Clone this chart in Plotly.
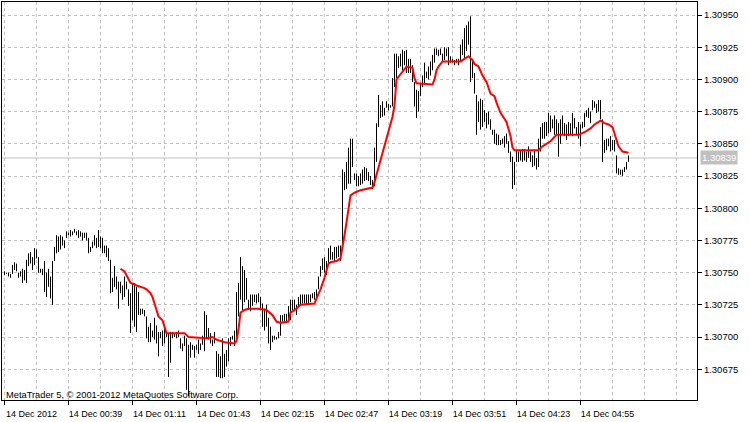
import plotly.graph_objects as go

# One-minute bars, index = minutes after 14 Dec 2012 00:07
bar_index = list(range(313))

bar_high = [
    1.30751, 1.30750, 1.30750, 1.30749, 1.30756, 1.30758, 1.30757, 1.30750, 1.30751, 1.30753,
    1.30752, 1.30760, 1.30765, 1.30766, 1.30762, 1.30769, 1.30768, 1.30762, 1.30753, 1.30753,
    1.30759, 1.30750, 1.30753, 1.30747, 1.30759, 1.30770, 1.30779, 1.30778, 1.30779, 1.30778,
    1.30775, 1.30782, 1.30781, 1.30783, 1.30782, 1.30784, 1.30782, 1.30783, 1.30782, 1.30781,
    1.30781, 1.30781, 1.30777, 1.30770, 1.30774, 1.30779, 1.30777, 1.30783, 1.30778, 1.30777,
    1.30771, 1.30771, 1.30769, 1.30760, 1.30746, 1.30755, 1.30747, 1.30743, 1.30743, 1.30740,
    1.30747, 1.30743, 1.30737, 1.30734, 1.30742, 1.30742, 1.30739, 1.30735, 1.30722, 1.30722,
    1.30721, 1.30716, 1.30708, 1.30711, 1.30705, 1.30715, 1.30709, 1.30704, 1.30704, 1.30705,
    1.30707, 1.30703, 1.30703, 1.30704, 1.30704, 1.30703, 1.30704, 1.30705, 1.30699, 1.30695,
    1.30701, 1.30699, 1.30694, 1.30696, 1.30694, 1.30693, 1.30694, 1.30698, 1.30695, 1.30701,
    1.30720, 1.30717, 1.30707, 1.30703, 1.30698, 1.30704, 1.30689, 1.30687, 1.30685, 1.30699,
    1.30687, 1.30690, 1.30699, 1.30700, 1.30701, 1.30705, 1.30735, 1.30742, 1.30762, 1.30755,
    1.30752, 1.30746, 1.30729, 1.30733, 1.30733, 1.30733, 1.30733, 1.30734, 1.30731, 1.30726,
    1.30722, 1.30725, 1.30715, 1.30708, 1.30701, 1.30701, 1.30700, 1.30704, 1.30717, 1.30717,
    1.30718, 1.30718, 1.30724, 1.30729, 1.30729, 1.30729, 1.30725, 1.30731, 1.30733, 1.30733,
    1.30733, 1.30733, 1.30733, 1.30733, 1.30734, 1.30735, 1.30737, 1.30747, 1.30755, 1.30761,
    1.30762, 1.30759, 1.30769, 1.30771, 1.30766, 1.30770, 1.30770, 1.30771, 1.30771, 1.30830,
    1.30828, 1.30836, 1.30847, 1.30854, 1.30854, 1.30827, 1.30827, 1.30825, 1.30827, 1.30830,
    1.30832, 1.30831, 1.30828, 1.30825, 1.30822, 1.30847, 1.30866, 1.30888, 1.30880, 1.30883,
    1.30878, 1.30883, 1.30881, 1.30880, 1.30901, 1.30920, 1.30920, 1.30918, 1.30920, 1.30923,
    1.30922, 1.30923, 1.30916, 1.30916, 1.30911, 1.30898, 1.30892, 1.30891, 1.30897, 1.30903,
    1.30913, 1.30906, 1.30910, 1.30914, 1.30919, 1.30924, 1.30924, 1.30923, 1.30924, 1.30920,
    1.30925, 1.30924, 1.30925, 1.30918, 1.30916, 1.30915, 1.30916, 1.30916, 1.30927, 1.30931,
    1.30940, 1.30942, 1.30945, 1.30949, 1.30916, 1.30905, 1.30888, 1.30883, 1.30885, 1.30884,
    1.30876, 1.30874, 1.30875, 1.30869, 1.30861, 1.30861, 1.30858, 1.30857, 1.30853, 1.30854,
    1.30856, 1.30858, 1.30852, 1.30844, 1.30840, 1.30836, 1.30845, 1.30844, 1.30845, 1.30846,
    1.30846, 1.30844, 1.30848, 1.30844, 1.30841, 1.30845, 1.30839, 1.30854, 1.30863, 1.30866,
    1.30867, 1.30867, 1.30874, 1.30872, 1.30869, 1.30872, 1.30869, 1.30866, 1.30869, 1.30872,
    1.30866, 1.30865, 1.30867, 1.30866, 1.30874, 1.30870, 1.30863, 1.30867, 1.30865, 1.30867,
    1.30874, 1.30876, 1.30878, 1.30875, 1.30884, 1.30883, 1.30881, 1.30884, 1.30884, 1.30869,
    1.30853, 1.30854, 1.30854, 1.30856, 1.30853, 1.30853, 1.30841, 1.30831, 1.30830, 1.30830,
    1.30832, 1.30836, 1.30841,
]

bar_low = [
    1.30748, 1.30749, 1.30747, 1.30746, 1.30749, 1.30752, 1.30751, 1.30746, 1.30747, 1.30742,
    1.30744, 1.30742, 1.30755, 1.30757, 1.30752, 1.30756, 1.30761, 1.30750, 1.30750, 1.30748,
    1.30735, 1.30731, 1.30739, 1.30730, 1.30725, 1.30759, 1.30765, 1.30766, 1.30768, 1.30771,
    1.30769, 1.30777, 1.30779, 1.30778, 1.30779, 1.30781, 1.30779, 1.30777, 1.30778, 1.30775,
    1.30777, 1.30775, 1.30765, 1.30766, 1.30769, 1.30771, 1.30769, 1.30770, 1.30769, 1.30765,
    1.30765, 1.30762, 1.30759, 1.30734, 1.30735, 1.30739, 1.30737, 1.30722, 1.30734, 1.30729,
    1.30731, 1.30737, 1.30724, 1.30703, 1.30713, 1.30708, 1.30704, 1.30717, 1.30717, 1.30718,
    1.30716, 1.30699, 1.30696, 1.30696, 1.30700, 1.30698, 1.30695, 1.30685, 1.30699, 1.30693,
    1.30695, 1.30700, 1.30669, 1.30680, 1.30699, 1.30700, 1.30699, 1.30700, 1.30691, 1.30689,
    1.30693, 1.30659, 1.30654, 1.30684, 1.30690, 1.30684, 1.30690, 1.30687, 1.30690, 1.30694,
    1.30689, 1.30699, 1.30698, 1.30695, 1.30693, 1.30695, 1.30669, 1.30669, 1.30668, 1.30668,
    1.30669, 1.30677, 1.30681, 1.30693, 1.30698, 1.30693, 1.30698, 1.30716, 1.30729, 1.30721,
    1.30727, 1.30729, 1.30721, 1.30720, 1.30724, 1.30727, 1.30726, 1.30727, 1.30722, 1.30708,
    1.30705, 1.30708, 1.30695, 1.30690, 1.30696, 1.30698, 1.30698, 1.30699, 1.30701, 1.30712,
    1.30712, 1.30712, 1.30713, 1.30713, 1.30721, 1.30720, 1.30717, 1.30724, 1.30725, 1.30726,
    1.30726, 1.30725, 1.30726, 1.30727, 1.30730, 1.30729, 1.30731, 1.30737, 1.30747, 1.30752,
    1.30750, 1.30748, 1.30757, 1.30760, 1.30760, 1.30759, 1.30761, 1.30762, 1.30759, 1.30769,
    1.30814, 1.30815, 1.30819, 1.30819, 1.30832, 1.30822, 1.30817, 1.30817, 1.30818, 1.30819,
    1.30821, 1.30822, 1.30821, 1.30818, 1.30815, 1.30817, 1.30836, 1.30863, 1.30870, 1.30871,
    1.30872, 1.30878, 1.30876, 1.30878, 1.30879, 1.30894, 1.30901, 1.30909, 1.30910, 1.30907,
    1.30911, 1.30905, 1.30905, 1.30905, 1.30898, 1.30879, 1.30870, 1.30875, 1.30887, 1.30894,
    1.30897, 1.30901, 1.30900, 1.30903, 1.30907, 1.30913, 1.30919, 1.30918, 1.30919, 1.30914,
    1.30915, 1.30918, 1.30911, 1.30913, 1.30913, 1.30911, 1.30913, 1.30911, 1.30914, 1.30919,
    1.30916, 1.30922, 1.30927, 1.30898, 1.30901, 1.30889, 1.30857, 1.30867, 1.30861, 1.30863,
    1.30867, 1.30862, 1.30865, 1.30861, 1.30857, 1.30850, 1.30849, 1.30849, 1.30849, 1.30850,
    1.30847, 1.30850, 1.30843, 1.30836, 1.30815, 1.30818, 1.30836, 1.30836, 1.30837, 1.30836,
    1.30837, 1.30836, 1.30839, 1.30836, 1.30832, 1.30833, 1.30830, 1.30832, 1.30844, 1.30854,
    1.30854, 1.30856, 1.30858, 1.30859, 1.30862, 1.30857, 1.30856, 1.30840, 1.30850, 1.30857,
    1.30856, 1.30853, 1.30856, 1.30857, 1.30856, 1.30862, 1.30857, 1.30854, 1.30848, 1.30862,
    1.30863, 1.30871, 1.30870, 1.30866, 1.30876, 1.30878, 1.30874, 1.30875, 1.30869, 1.30836,
    1.30843, 1.30845, 1.30848, 1.30844, 1.30845, 1.30844, 1.30827, 1.30826, 1.30826, 1.30825,
    1.30828, 1.30830, 1.30836,
]

# Red indicator line (bar index, value)
ma_index = [58, 60, 61, 63, 65, 66, 70, 71, 73, 74, 75, 76, 77, 79, 80, 81, 90, 92, 101, 104,
            106, 110, 115, 116, 117, 118, 120, 122, 127, 131, 134, 136, 138, 142, 143, 146, 148,
            155, 156, 158, 160, 162, 163, 166, 168, 169, 170, 171, 172, 173, 175, 178, 184, 185,
            186, 188, 190, 191, 193, 194, 195, 196, 198, 201, 204, 205, 206, 214, 215, 216, 217,
            219, 228, 230, 232, 234, 235, 237, 239, 241, 243, 245, 246, 248, 250, 251, 253, 254,
            255, 267, 269, 270, 273, 276, 287, 290, 293, 295, 298, 300, 302, 304, 305, 306, 307,
            309, 312]
ma_value = [1.30753, 1.30751, 1.30748, 1.30742, 1.30741, 1.30740, 1.30738, 1.30737, 1.30734,
            1.30731, 1.30726, 1.30720, 1.30716, 1.30713, 1.30707, 1.30703, 1.30703, 1.30700,
            1.30699, 1.30700, 1.30698, 1.30696, 1.30695, 1.30697, 1.30706, 1.30719, 1.30721,
            1.30722, 1.30722, 1.30721, 1.30717, 1.30712, 1.30711, 1.30712, 1.30719, 1.30722,
            1.30725, 1.30726, 1.30730, 1.30737, 1.30746, 1.30757, 1.30758, 1.30759, 1.30761,
            1.30769, 1.30779, 1.30789, 1.30800, 1.30810, 1.30812, 1.30814, 1.30816, 1.30820,
            1.30826, 1.30837, 1.30848, 1.30853, 1.30865, 1.30871, 1.30880, 1.30900, 1.30904,
            1.30910, 1.30909, 1.30901, 1.30897, 1.30896, 1.30900, 1.30907, 1.30910, 1.30914,
            1.30914, 1.30916, 1.30918, 1.30915, 1.30912, 1.30910, 1.30903, 1.30898, 1.30889,
            1.30887, 1.30882, 1.30874, 1.30869, 1.30867, 1.30856, 1.30847, 1.30845, 1.30845,
            1.30848, 1.30849, 1.30852, 1.30857, 1.30857, 1.30859, 1.30862, 1.30865, 1.30868,
            1.30866, 1.30865, 1.30863, 1.30858, 1.30853, 1.30848, 1.30844, 1.30843]

last_price = 1.30839

time_tick_index = [0, 32, 64, 96, 128, 160, 192, 224, 256, 288]
time_tick_labels = ["14 Dec 2012", "14 Dec 00:39", "14 Dec 01:11", "14 Dec 01:43",
                    "14 Dec 02:15", "14 Dec 02:47", "14 Dec 03:19", "14 Dec 03:51",
                    "14 Dec 04:23", "14 Dec 04:55"]

price_ticks = [1.30675, 1.30700, 1.30725, 1.30750, 1.30775, 1.30800, 1.30825,
               1.30850, 1.30875, 1.30900, 1.30925, 1.30950]

FONT = "Liberation Sans, Arial, sans-serif"
GRID = "#C0C0C0"

bx, by = [], []
for t, h, l in zip(bar_index, bar_high, bar_low):
    bx += [t, t, None]
    by += [l, h, None]

fig = go.Figure()
fig.add_trace(go.Scatter(x=bx, y=by, mode="lines",
                         line=dict(color="black", width=1), hoverinfo="skip"))
fig.add_trace(go.Scatter(x=ma_index, y=ma_value, mode="lines",
                         line=dict(color="#FF0000", width=2)))

fig.add_shape(type="line", xref="paper", x0=0, x1=1, yref="y", y0=last_price, y1=last_price,
              line=dict(color=GRID, width=1), layer="between")

fig.add_annotation(text=f"{last_price:.5f}", xref="paper", x=1, xanchor="left", xshift=3,
                   yref="y", y=last_price, yanchor="middle", showarrow=False,
                   bgcolor=GRID, borderpad=1, font=dict(color="white", size=9.5, family=FONT))
fig.add_annotation(text="MetaTrader 5, © 2001-2012 MetaQuotes Software Corp.",
                   xref="paper", x=0, xanchor="left", xshift=2,
                   yref="paper", y=0, yanchor="middle", yshift=5, showarrow=False,
                   font=dict(color="black", size=9.3, family=FONT))

fig.update_layout(width=750, height=422, margin=dict(l=2, r=53, t=2, b=22),
                  paper_bgcolor="white", plot_bgcolor="white", showlegend=False,
                  font=dict(family=FONT, size=9.5, color="black"))
fig.update_xaxes(range=[-1.25, 346.25], tickmode="array", tickvals=time_tick_index,
                 ticktext=time_tick_labels, ticks="outside", ticklen=4, tickcolor="black",
                 tickfont=dict(size=9, family=FONT, color="black"),
                 showgrid=True, gridcolor=GRID, griddash="3px,3px", gridwidth=1,
                 minor=dict(tickmode="linear", tick0=0, dtick=16, showgrid=True,
                            gridcolor=GRID, griddash="3px,3px", ticks=""),
                 showline=True, linecolor="black", linewidth=1, mirror=True,
                 zeroline=False, ticklabelshift=27, ticklabelstandoff=1)
fig.update_yaxes(side="right", range=[1.306511, 1.309601], tickmode="array",
                 tickvals=price_ticks, ticktext=[f"{v:.5f}" for v in price_ticks],
                 ticks="outside", ticklen=4, tickcolor="black",
                 tickfont=dict(size=9.5, family=FONT, color="black"),
                 showgrid=True, gridcolor=GRID, griddash="3px,3px", gridwidth=1,
                 showline=True, linecolor="black", linewidth=1, mirror=True,
                 zeroline=False, ticklabelstandoff=0)

fig.write_html("out.html", config={"displayModeBar": False},
               post_script="document.body.style.margin='0';document.body.style.padding='0';")
